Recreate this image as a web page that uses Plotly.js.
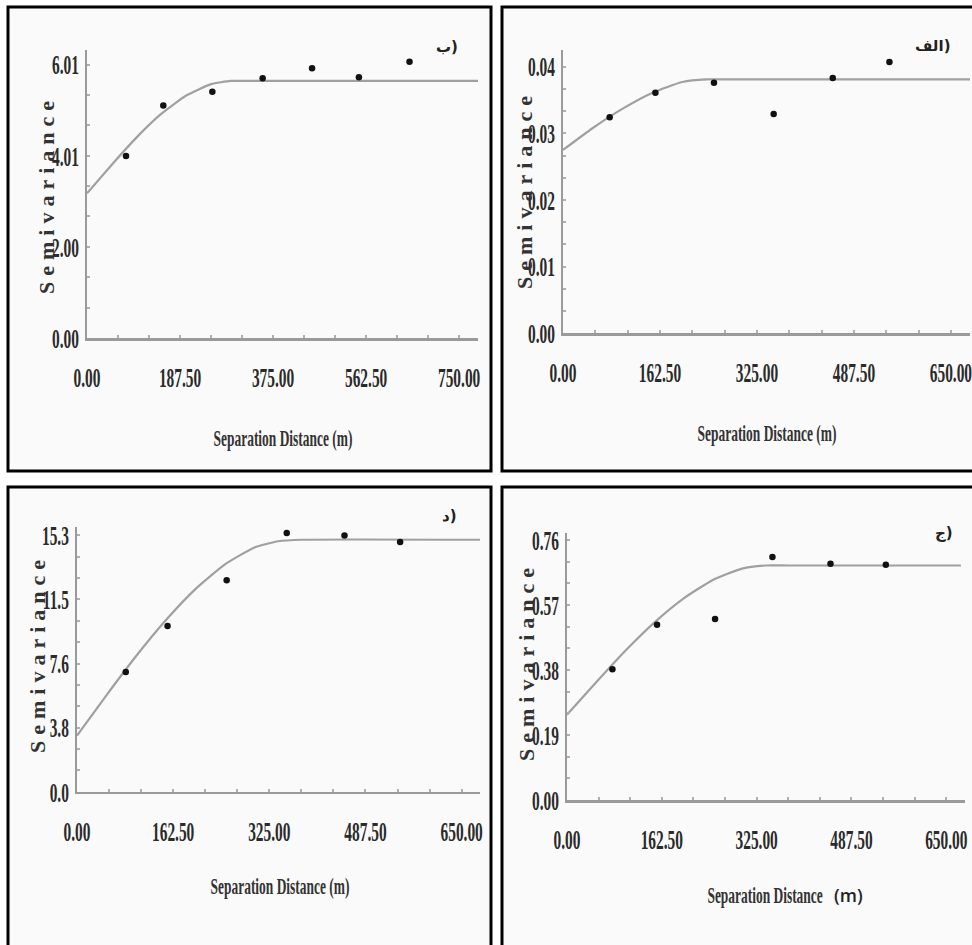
<!DOCTYPE html>
<html><head><meta charset="utf-8">
<script src="https://cdn.plot.ly/plotly-3.0.1.min.js"></script>
<style>html,body{margin:0;padding:0;background:#fff;}#chart{width:972px;height:945px;}</style>
</head><body><div id="chart"></div>
<script>
// ---------- data ----------
// Panel ب (top-left)
const distB = [78.6, 153.8, 252.6, 354, 453.6, 548, 650];
const semB  = [4.00, 5.11, 5.41, 5.71, 5.93, 5.73, 6.07];
const fitXB = [0, 50, 100, 150, 200, 250, 290, 330, 788];
const fitYB = [3.18, 3.81, 4.41, 4.93, 5.33, 5.58, 5.65, 5.65, 5.65];
const xTickValsB = [0, 187.5, 375, 562.5, 750];
const xTickTextB = ["0.00", "187.50", "375.00", "562.50", "750.00"];
const yTickValsB = [0, 2.003, 4.007, 6.01];
const yTickTextB = ["0.00", "2.00", "4.01", "6.01"];

// Panel الف (top-right)
const distA = [78.2, 154.8, 253, 353, 452, 547];
const semA  = [0.0324, 0.0361, 0.0376, 0.0329, 0.0383, 0.0407];
const fitXA = [0, 50, 100, 150, 200, 240, 280, 682];
const fitYA = [0.0275, 0.0308, 0.0337, 0.0361, 0.0377, 0.0381, 0.0381, 0.0381];
const xTickValsA = [0, 162.5, 325, 487.5, 650];
const xTickTextA = ["0.00", "162.50", "325.00", "487.50", "650.00"];
const yTickValsA = [0, 0.01, 0.02, 0.03, 0.04];
const yTickTextA = ["0.00", "0.01", "0.02", "0.03", "0.04"];

// Panel د (bottom-left)
const distD = [82.4, 153, 252.9, 354.4, 452, 546];
const semD  = [7.15, 9.89, 12.62, 15.44, 15.30, 14.90];
const fitXD = [0, 50, 100, 150, 200, 250, 300, 340, 380, 681];
const fitYD = [3.35, 5.77, 8.10, 10.23, 12.09, 13.57, 14.58, 14.95, 15.04, 15.04];
const xTickValsD = [0, 162.5, 325, 487.5, 650];
const xTickTextD = ["0.00", "162.50", "325.00", "487.50", "650.00"];
const yTickValsD = [0, 3.825, 7.65, 11.475, 15.3];
const yTickTextD = ["0.0", "3.8", "7.6", "11.5", "15.3"];

// Panel ج (bottom-right)
const distJ = [77.8, 154.3, 253.7, 352, 451.5, 546.3];
const semJ  = [0.382, 0.512, 0.529, 0.710, 0.690, 0.687];
const fitXJ = [0, 50, 100, 150, 200, 250, 300, 340, 380, 675];
const fitYJ = [0.249, 0.344, 0.436, 0.519, 0.589, 0.643, 0.676, 0.685, 0.685, 0.685];
const xTickValsJ = [0, 162.5, 325, 487.5, 650];
const xTickTextJ = ["0.00", "162.50", "325.00", "487.50", "650.00"];
const yTickValsJ = [0, 0.19, 0.38, 0.57, 0.76];
const yTickTextJ = ["0.00", "0.19", "0.38", "0.57", "0.76"];

const panelLabels = ["ب)", "الف)", "د)", "ج)"];
const xTitle = "Separation Distance (m)";
const yTitle = "Semivariance";

// ---------- layout ----------
const W = 972, H = 945;
const px = x => x / W, py = y => 1 - y / H;

const panels = [
  {id:'', dist:distB, sem:semB, fx:fitXB, fy:fitYB, xv:xTickValsB, xt:xTickTextB, yv:yTickValsB, yt:yTickTextB,
   xd:[87,478], yd:[50,338], xr:[0,788], yr:[0,6.33], xminor:62.5, yminor:0.6677,
   box:[8,7,491,471], xt_pos:[283,438], yt_pos:[47,195], lab_pos:[447,47]},
  {id:'2', dist:distA, sem:semA, fx:fitXA, fy:fitYA, xv:xTickValsA, xt:xTickTextA, yv:yTickValsA, yt:yTickTextA,
   xd:[563,970], yd:[50,333.3], xr:[0,682], yr:[0,0.0425], xminor:54.1667, yminor:0.003333,
   box:[502,7,990,471], xt_pos:[767,433], yt_pos:[524,190], lab_pos:[933,46]},
  {id:'3', dist:distD, sem:semD, fx:fitXD, fy:fitYD, xv:xTickValsD, xt:xTickTextD, yv:yTickValsD, yt:yTickTextD,
   xd:[77,480], yd:[527,791.7], xr:[0,681], yr:[0,15.8], xminor:54.1667, yminor:1.275,
   box:[8,487,491,960], xt_pos:[280,886], yt_pos:[37,654], lab_pos:[449,516]},
  {id:'4', dist:distJ, sem:semJ, fx:fitXJ, fy:fitYJ, xv:xTickValsJ, xt:xTickTextJ, yv:yTickValsJ, yt:yTickTextJ,
   xd:[567,965], yd:[533,800], xr:[0,682], yr:[0,0.78], xminor:54.1667, yminor:0.06333,
   box:[502,487,990,960], xt_pos:[765,895], yt_pos:[526,662], lab_pos:[944,533]}
];

const tickFont = {family:'Liberation Serif, Times New Roman, serif', size:28, color:'#2a2a2a', weight:700};
const traces = [];
const layout = {
  width: W, height: H, margin:{l:0,r:0,t:0,b:0},
  paper_bgcolor:'#ffffff', plot_bgcolor:'rgba(0,0,0,0)',
  showlegend:false, shapes:[], annotations:[]
};
const annoStyle = []; // per annotation: {sx, ls}

panels.forEach((p, i) => {
  const xa = 'x' + p.id, ya = 'y' + p.id;
  traces.push({x:p.fx, y:p.fy, xaxis:xa, yaxis:ya, type:'scatter', mode:'lines',
    line:{color:'#a0a0a0', width:2.2, shape:'spline', smoothing:0.5}, hoverinfo:'skip'});
  traces.push({x:p.dist, y:p.sem, xaxis:xa, yaxis:ya, type:'scatter', mode:'markers',
    marker:{color:'#111', size:6.5, symbol:'circle'}, hoverinfo:'skip'});
  const common = {showline:true, linecolor:'#9a9a9a', linewidth:2.5, zeroline:false, showgrid:false,
    ticks:'inside', ticklen:3, tickwidth:2, tickcolor:'#b0b0b0', tickfont:tickFont, fixedrange:true,
    tickmode:'array', tickangle:0, ticklabeloverflow:'allow'};
  layout['xaxis' + p.id] = Object.assign({}, common, {
    domain:[px(p.xd[0]), px(p.xd[1])], range:p.xr, anchor:ya,
    tickvals:p.xv, ticktext:p.xt, ticklabelstandoff:13,
    minor:{dtick:p.xminor, tick0:0, ticks:'inside', ticklen:3, tickwidth:2, tickcolor:'#b0b0b0'}
  });
  layout['yaxis' + p.id] = Object.assign({}, common, {
    domain:[py(p.yd[1]), py(p.yd[0])], range:p.yr, anchor:xa,
    tickvals:p.yv, ticktext:p.yt, ticklabelstandoff:0,
    minor:{dtick:p.yminor, tick0:0, ticks:'inside', ticklen:3, tickwidth:2, tickcolor:'#b0b0b0'}
  });
  layout.shapes.push({type:'rect', xref:'paper', yref:'paper', layer:'below',
    x0:px(p.box[0]), x1:px(p.box[2]), y0:py(p.box[3]), y1:py(p.box[1]),
    line:{color:'#000', width:3}, fillcolor:'#fafafa'});
  // x title
  const tf = {family:'Liberation Serif, serif', size:24, color:'#333', weight:700};
  if (i === 3) {
    layout.annotations.push({xref:'paper', yref:'paper', x:px(765), y:py(p.xt_pos[1]), xanchor:'center', yanchor:'middle',
      text:'Separation Distance', showarrow:false, font:tf});
    annoStyle.push({sx:0.56});
    layout.annotations.push({xref:'paper', yref:'paper', x:px(848), y:py(p.xt_pos[1]), xanchor:'center', yanchor:'middle',
      text:'(m)', showarrow:false,
      font:{family:'Open Sans, sans-serif', size:18, color:'#222', weight:600}});
    annoStyle.push({sx:1});
  } else {
    layout.annotations.push({xref:'paper', yref:'paper', x:px(p.xt_pos[0]), y:py(p.xt_pos[1]), xanchor:'center', yanchor:'middle',
      text:xTitle, showarrow:false, font:tf});
    annoStyle.push({sx:0.56});
  }
  // y title
  layout.annotations.push({xref:'paper', yref:'paper', x:px(p.yt_pos[0]), y:py(p.yt_pos[1]), xanchor:'center', yanchor:'middle',
    text:yTitle, showarrow:false, textangle:-90,
    font:{family:'Liberation Serif, serif', size:22, color:'#333', weight:700}});
  annoStyle.push({sx:1, ls:6});
  // panel letter
  layout.annotations.push({xref:'paper', yref:'paper', x:px(p.lab_pos[0]), y:py(p.lab_pos[1]), xanchor:'center', yanchor:'middle',
    text:panelLabels[i], showarrow:false,
    font:{family:'DejaVu Sans, sans-serif', size:15, color:'#222', weight:700}});
  annoStyle.push({sx:1});
});

function squeeze(t, sx) {
  const bb = t.getBBox();
  const anchor = t.getAttribute('text-anchor') || 'middle';
  let cx = bb.x + bb.width / 2;
  if (anchor === 'end') cx = bb.x + bb.width;
  else if (anchor === 'start') cx = bb.x;
  const cy = bb.y + bb.height / 2;
  const old = t.getAttribute('transform') || '';
  t.setAttribute('transform', old + ' translate(' + cx + ',' + cy + ') scale(' + sx + ',1) translate(' + (-cx) + ',' + (-cy) + ')');
}

Plotly.newPlot('chart', traces, layout, {staticPlot:true, displayModeBar:false}).then(gd => {
  gd.querySelectorAll('.xaxislayer-above text, .yaxislayer-above text').forEach(t => squeeze(t, 0.55));
  gd.querySelectorAll('.annotation').forEach(g => {
    const idx = +g.getAttribute('data-index');
    const st = annoStyle[idx];
    const t = g.querySelector('text.annotation-text');
    if (!t || !st) return;
    if (st.ls) t.style.letterSpacing = st.ls + 'px';
    if (st.sx !== 1) squeeze(t, st.sx);
  });
});
</script>
</body></html>
